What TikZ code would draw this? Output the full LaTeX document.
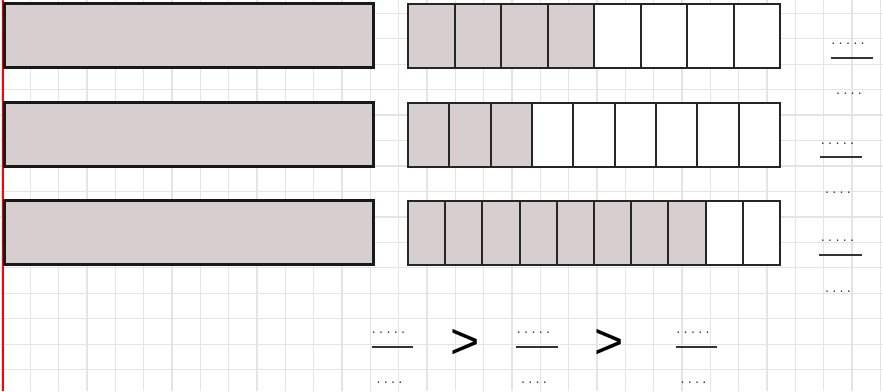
\documentclass[tikz,border=0pt]{standalone}
\usepackage{fontspec}
\newfontfamily\gtfont{Liberation Sans}
\definecolor{barfill}{RGB}{215,207,207}
\definecolor{gridc}{RGB}{228,228,228}
\newcommand\phk{\kern2.3pt}
\tikzset{
 gridline/.style={draw=gridc, line width=1.3pt},
 bigbar/.style={draw=black!90, line width=3pt, fill=barfill, minimum width=369pt, minimum height=64pt, inner sep=0pt, outer sep=0pt},
 cellbox/.style={draw=black!85, line width=2pt, inner sep=0pt, outer sep=0pt, minimum height=64pt},
 dotsph/.style={font=\fontsize{20}{20}\selectfont, text=black!85, inner sep=0pt, anchor=base},
 fracbar/.style={draw=black!80, line width=1.5pt},
 gtsign/.style={font=\gtfont\fontsize{50}{50}\selectfont, inner sep=0pt}
}
\begin{document}
\begin{tikzpicture}[x=1pt,y=-1pt]
\useasboundingbox[fill=white] (0,0) rectangle (883,391);
% grid
\foreach \k in {0,...,31} \draw[gridline] ({2+28.33*\k},0) -- ({2+28.33*\k},391);
\foreach \k in {0,...,14} \draw[gridline] (0,{13.3+25.45*\k}) -- (883,{13.3+25.45*\k});
\draw[red, line width=1.5pt] (3,0) -- (3,391);
% left bars
\node[bigbar] (la) at (188.5,35) {};
\node[bigbar] (lb) at (188.5,134.5) {};
\node[bigbar] (lc) at (188.5,232.5) {};
% right bar 1: 8 cells, 4 shaded
\foreach \i in {1,...,4} \node[cellbox, minimum width=46.5pt, fill=barfill] (ra\i) at ({408+(\i-0.5)*46.5},36) {};
\foreach \i in {5,...,8} \node[cellbox, minimum width=46.5pt, fill=white] (ra\i) at ({408+(\i-0.5)*46.5},36) {};
% right bar 2: 9 cells, 3 shaded
\foreach \i in {1,...,3} \node[cellbox, minimum width=41.33pt, fill=barfill] (rb\i) at ({408+(\i-0.5)*41.333},134.5) {};
\foreach \i in {4,...,9} \node[cellbox, minimum width=41.33pt, fill=white] (rb\i) at ({408+(\i-0.5)*41.333},134.5) {};
% right bar 3: 10 cells, 8 shaded
\foreach \i in {1,...,8} \node[cellbox, minimum width=37.2pt, fill=barfill] (rc\i) at ({408+(\i-0.5)*37.2},233) {};
\foreach \i in {9,10} \node[cellbox, minimum width=37.2pt, fill=white] (rc\i) at ({408+(\i-0.5)*37.2},233) {};
% right fractions
\node[dotsph] (f1n) at (848,44) {.\phk.\phk.\phk.\phk.};
\coordinate (f1l) at (831,58); \coordinate (f1r) at (873,58);
\draw[fracbar] (f1l) -- (f1r);
\node[dotsph] (f1d) at (849,94) {.\phk.\phk.\phk.};
\node[dotsph] (f2n) at (837.5,144) {.\phk.\phk.\phk.\phk.};
\coordinate (f2l) at (820,157); \coordinate (f2r) at (862,157);
\draw[fracbar] (f2l) -- (f2r);
\node[dotsph] (f2d) at (838,193) {.\phk.\phk.\phk.};
\node[dotsph] (f3n) at (837.5,241) {.\phk.\phk.\phk.\phk.};
\coordinate (f3l) at (819,255); \coordinate (f3r) at (862,255);
\draw[fracbar] (f3l) -- (f3r);
\node[dotsph] (f3d) at (838,292) {.\phk.\phk.\phk.};
% bottom comparison
\node[dotsph] (fan) at (388.5,333) {.\phk.\phk.\phk.\phk.};
\coordinate (fal) at (372,347); \coordinate (far) at (413,347);
\draw[fracbar] (fal) -- (far);
\node[dotsph] (fad) at (389.5,383) {.\phk.\phk.\phk.};
\node[gtsign] (g1) at (465,344) {>};
\node[dotsph] (fbn) at (533.5,333) {.\phk.\phk.\phk.\phk.};
\coordinate (fbl) at (516,347); \coordinate (fbr) at (558,347);
\draw[fracbar] (fbl) -- (fbr);
\node[dotsph] (fbd) at (534,383) {.\phk.\phk.\phk.};
\node[gtsign] (g2) at (609,344) {>};
\node[dotsph] (fcn) at (693,333) {.\phk.\phk.\phk.\phk.};
\coordinate (fcl) at (676,347); \coordinate (fcr) at (717,347);
\draw[fracbar] (fcl) -- (fcr);
\node[dotsph] (fcd) at (693.5,383) {.\phk.\phk.\phk.};
\end{tikzpicture}
\end{document}
